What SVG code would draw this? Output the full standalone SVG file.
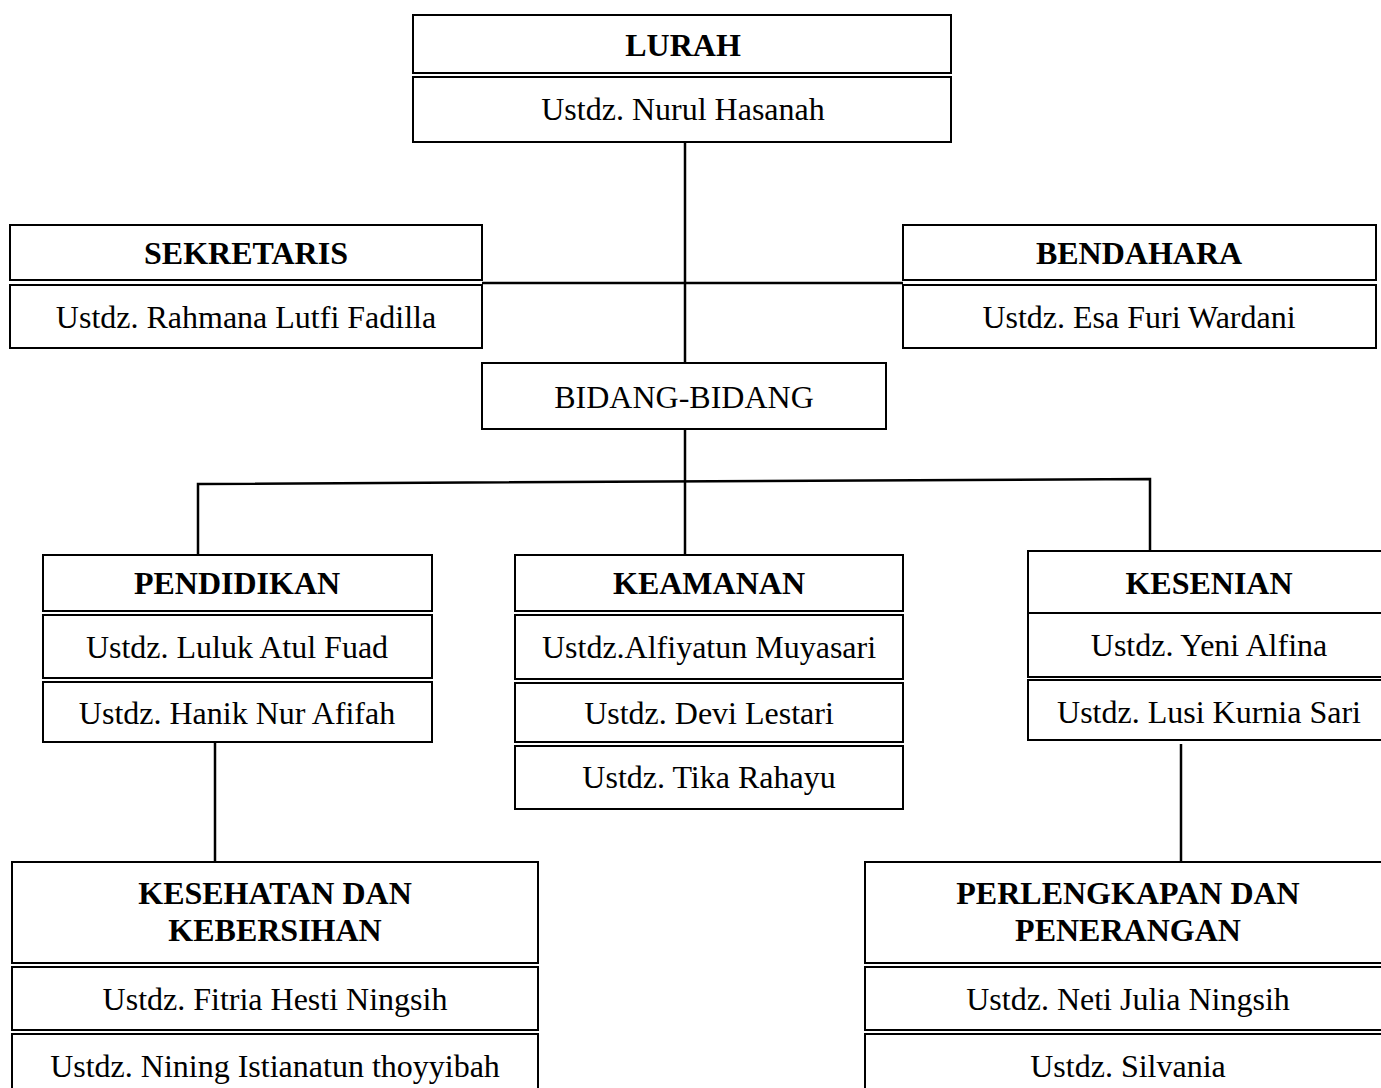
<svg xmlns="http://www.w3.org/2000/svg" width="1381" height="1088" viewBox="0 0 1381 1088">
<style>
rect{fill:#fff;stroke:#000;stroke-width:2}
text{font-family:"Liberation Serif","Times New Roman",serif;font-size:32px;fill:#000;text-anchor:middle}
.b{font-weight:bold;font-size:32px}
.c line,.c polyline{stroke:#000;stroke-width:2.5;fill:none}
</style>
<rect x="0" y="0" width="1381" height="1088" style="stroke:none"/>
<g class="c" id="connectors">
<line x1="685" y1="142" x2="685" y2="363"/>
<line x1="482" y1="283" x2="903" y2="283"/>
<line x1="685" y1="429" x2="685" y2="555"/>
<polyline points="198,555 198,484 1150,479 1150,551"/>
<line x1="215" y1="742" x2="215" y2="862"/>
<line x1="1181" y1="744" x2="1181" y2="862"/>
</g>
<g id="lurah">
<rect x="413" y="15" width="538" height="58"/><text class="b" x="683" y="56">LURAH</text>
<rect x="413" y="77" width="538" height="65"/><text x="683" y="120">Ustdz. Nurul Hasanah</text>
</g>
<g id="sekretaris">
<rect x="10" y="225" width="472" height="55"/><text class="b" x="246" y="264">SEKRETARIS</text>
<rect x="10" y="285" width="472" height="63"/><text x="246" y="328">Ustdz. Rahmana Lutfi Fadilla</text>
</g>
<g id="bendahara">
<rect x="903" y="225" width="473" height="55"/><text class="b" x="1139" y="264">BENDAHARA</text>
<rect x="903" y="285" width="473" height="63"/><text x="1139" y="328">Ustdz. Esa Furi Wardani</text>
</g>
<g id="bidang">
<rect x="482" y="363" width="404" height="66"/><text x="684" y="408">BIDANG-BIDANG</text>
</g>
<g id="pendidikan">
<rect x="43" y="555" width="389" height="56"/><text class="b" x="237" y="594">PENDIDIKAN</text>
<rect x="43" y="615" width="389" height="63"/><text x="237" y="658">Ustdz. Luluk Atul Fuad</text>
<rect x="43" y="682" width="389" height="60"/><text x="237" y="724">Ustdz. Hanik Nur Afifah</text>
</g>
<g id="keamanan">
<rect x="515" y="555" width="388" height="56"/><text class="b" x="709" y="594">KEAMANAN</text>
<rect x="515" y="615" width="388" height="64"/><text x="709" y="658">Ustdz.Alfiyatun Muyasari</text>
<rect x="515" y="683" width="388" height="59"/><text x="709" y="724">Ustdz. Devi Lestari</text>
<rect x="515" y="746" width="388" height="63"/><text x="709" y="788">Ustdz. Tika Rahayu</text>
</g>
<g id="kesenian">
<rect x="1028" y="551" width="360" height="62"/><text class="b" x="1209" y="594">KESENIAN</text>
<rect x="1028" y="613" width="360" height="64"/><text x="1209" y="656">Ustdz. Yeni Alfina</text>
<rect x="1028" y="680" width="360" height="60"/><text x="1209" y="723">Ustdz. Lusi Kurnia Sari</text>
</g>
<g id="kesehatan">
<rect x="12" y="862" width="526" height="101"/><text class="b" x="275" y="904">KESEHATAN DAN</text><text class="b" x="275" y="941">KEBERSIHAN</text>
<rect x="12" y="967" width="526" height="63"/><text x="275" y="1010">Ustdz. Fitria Hesti Ningsih</text>
<rect x="12" y="1034" width="526" height="70"/><text x="275" y="1077">Ustdz. Nining Istianatun thoyyibah</text>
</g>
<g id="perlengkapan">
<rect x="865" y="862" width="530" height="101"/><text class="b" x="1128" y="904">PERLENGKAPAN DAN</text><text class="b" x="1128" y="941">PENERANGAN</text>
<rect x="865" y="967" width="530" height="63"/><text x="1128" y="1010">Ustdz. Neti Julia Ningsih</text>
<rect x="865" y="1034" width="530" height="70"/><text x="1128" y="1077">Ustdz. Silvania</text>
</g>
</svg>
